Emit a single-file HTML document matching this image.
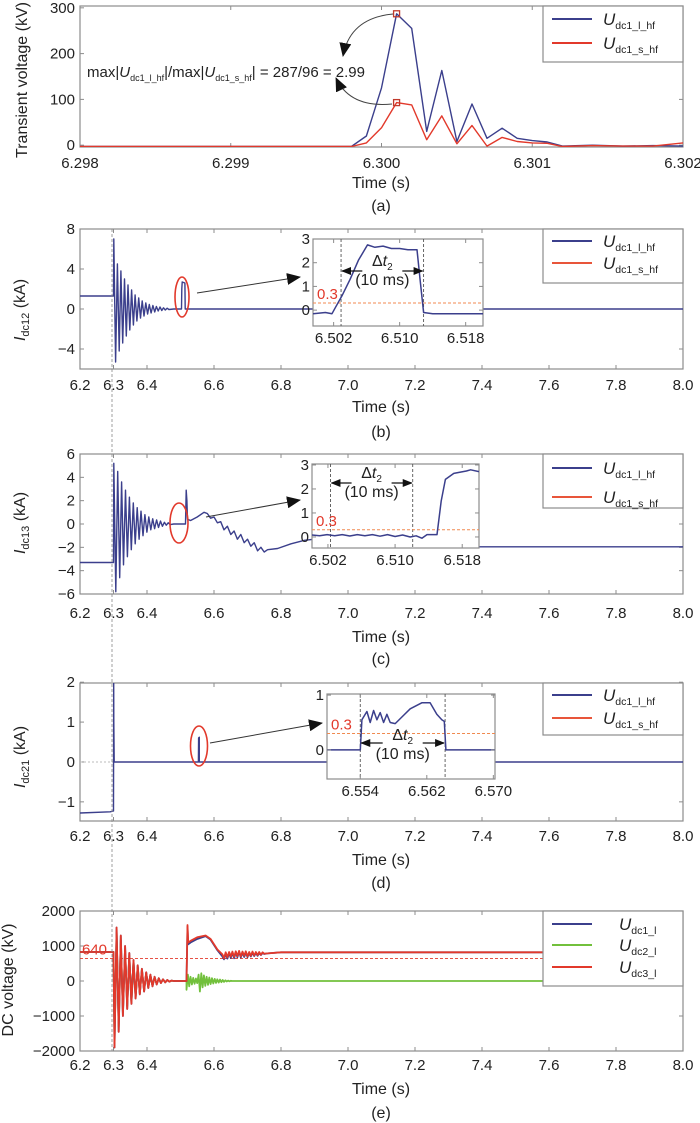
<!DOCTYPE html>
<html><head><meta charset="utf-8">
<style>
html,body{margin:0;padding:0;background:#fff;}
svg{display:block;font-family:"Liberation Sans",Arial,sans-serif;}
</style></head>
<body>
<svg id="fig" width="700" height="1123" viewBox="0 0 700 1123" xmlns="http://www.w3.org/2000/svg">
<defs>
<marker id="ah" markerWidth="10" markerHeight="8" refX="9" refY="4" orient="auto" markerUnits="userSpaceOnUse"><path d="M0,0 L10,4 L0,8 z" fill="#111"/></marker>
<marker id="ahb" markerWidth="14" markerHeight="12" refX="13" refY="6" orient="auto" markerUnits="userSpaceOnUse"><path d="M0,0 L14,6 L0,12 z" fill="#111"/></marker>
</defs>
</svg>
<script>
// ---------- DATA ----------
// panel (a)
const aTime = [6.2980,6.2998,6.2999,6.3000,6.3001,6.3002,6.3003,6.3004,6.3005,6.3006,6.3007,6.3008,6.3009,6.3010,6.3011,6.3012,6.3014,6.3016,6.3018,6.3020];
const aBlue = [-3,-3,20,125,287,255,30,163,8,90,15,37,15,10,7,-2,0,-2,-1,-2];
const aRed  = [-3,-3,5,38,93,88,12,64,3,43,-2,17,8,5,4,-3,-1,-2,-2,5];
const aXTicks = [6.298,6.299,6.300,6.301,6.302];
const aXLabels = ["6.298","6.299","6.300","6.301","6.302"];
const aYTicks = [0,100,200,300];
// shared x axis for (b)-(e)
const mainXTicks = [6.2,6.3,6.4,6.6,6.8,7.0,7.2,7.4,7.6,7.8,8.0];
const mainXLabels = ["6.2","6.3","6.4","6.6","6.8","7.0","7.2","7.4","7.6","7.8","8.0"];
// panel (b)
const bPreT = [6.2,6.3]; const bPreV = [1.3,1.3];
const bOscStart = 6.301; const bOscStep = 0.0053;
const bOsc = [7.0,-5.3,4.5,-4.2,3.8,-3.4,3.0,-2.7,2.4,-2.1,1.9,-1.6,1.4,-1.2,1.1,-0.9,0.8,-0.7,0.6,-0.5,0.45,-0.4,0.35,-0.3,0.25,-0.2,0.2,-0.15,0.12,-0.1,0.08,-0.05];
const bTailT = [6.48,6.503,6.504,6.505,6.513,6.514,8.0];
const bTailV = [0,0,2.0,2.7,2.6,0,0];
const bYTicks = [-4,0,4,8];
const ibT = [6.4995,6.5010,6.5018,6.5022,6.5030,6.5040,6.5050,6.5061,6.5070,6.5080,6.5090,6.5100,6.5110,6.5121,6.5125,6.5129,6.5140,6.5201];
const ibV = [-0.15,-0.1,-0.15,0.1,0.6,1.3,2.1,2.75,2.65,2.7,2.6,2.6,2.55,2.55,1.2,-0.1,-0.15,-0.15];
const ibXTicks = [6.502,6.510,6.518]; const ibXLabels = ["6.502","6.510","6.518"];
const ibYTicks = [0,1,2,3];
const ibMarks = [6.5029,6.5129];
// panel (c)
const cPreT = [6.2,6.3]; const cPreV = [-3.3,-3.3];
const cOscStart = 6.301; const cOscStep = 0.0058;
const cOsc = [5.2,-5.8,4.5,-4.6,3.6,-3.5,2.9,-2.8,2.3,-2.2,1.8,-1.7,1.4,-1.3,1.1,-1.0,0.8,-0.7,0.6,-0.5,0.45,-0.4,0.35,-0.3,0.25,-0.2,0.15,-0.1,0.1,-0.05];
const cTailT = [6.48,6.515,6.517,6.519,6.521,6.53,6.55,6.57,6.58,6.59,6.60,6.61,6.62,6.63,6.64,6.65,6.66,6.67,6.68,6.69,6.70,6.71,6.72,6.73,6.74,6.75,6.76,6.79,6.83,6.87,6.90,7.39,8.0];
const cTailV = [0,0,2.9,2.0,0.4,0.3,0.6,1.0,0.9,0.5,0.6,0.1,0.2,-0.5,-0.2,-0.9,-0.6,-1.3,-0.9,-1.6,-1.3,-1.9,-1.6,-2.3,-2.0,-2.4,-2.2,-2.1,-1.7,-1.4,-1.3,-1.95,-1.95];
const cYTicks = [-6,-4,-2,0,2,4,6];
const icT = [6.5001,6.5010,6.5019,6.5028,6.5037,6.5046,6.5055,6.5064,6.5073,6.5082,6.5091,6.5100,6.5109,6.5118,6.5125,6.5132,6.5138,6.5150,6.5155,6.5160,6.5170,6.5185,6.5190,6.5200];
const icV = [0.08,0.05,0.1,0.05,0.1,0.04,0.1,0.05,0.1,0.03,0.1,0.02,0.08,0.0,0.05,-0.05,0.1,0.1,1.5,2.4,2.65,2.75,2.8,2.72];
const icXTicks = [6.502,6.510,6.518]; const icXLabels = ["6.502","6.510","6.518"];
const icYTicks = [0,1,2,3];
const icMarks = [6.5023,6.5121];
// panel (d)
const dT = [6.2,6.29,6.3,6.3005,6.301,6.302,6.5535,6.554,6.556,6.5562,8.0];
const dV = [-1.28,-1.25,-1.23,2.0,1.0,0,0,0.6,0.62,0,0];
const dYTicks = [-1,0,1,2];
const idT = [6.550,6.5540,6.5542,6.5548,6.5552,6.5556,6.5560,6.5564,6.5568,6.5572,6.5576,6.5582,6.5590,6.5600,6.5614,6.5624,6.5632,6.5638,6.5641,6.5643,6.5702];
const idV = [0,0,0.55,0.7,0.5,0.72,0.55,0.68,0.5,0.65,0.5,0.48,0.6,0.75,0.86,0.86,0.65,0.55,0.52,0,0];
const idXTicks = [6.554,6.562,6.570]; const idXLabels = ["6.554","6.562","6.570"];
const idYTicks = [0,1];
const idMarks = [6.554,6.5642];
// panel (e)
const ePreT = [6.2,6.3]; const ePreV = [830,830];
const eOscStart = 6.303; const eOscStep = 0.0063;
const eOsc = [-1900,1530,-1450,1300,-1000,1000,-800,800,-650,600,-500,450,-380,350,-300,250,-200,180,-150,120,-100,80,-60,50,-40,30,-20,10];
const eTailT = [6.48,6.518,6.521,6.523,6.53,6.55,6.575,6.59,6.61,6.625,6.63,6.635,6.64,6.645,6.65,6.655,6.66,6.665,6.67,6.675,6.68,6.685,6.69,6.695,6.70,6.705,6.71,6.715,6.72,6.725,6.73,6.735,6.74,6.745,6.75,6.76,6.80,8.0];
const eRedTail = [0,0,1600,1100,1150,1250,1300,1200,900,760,650,820,680,830,700,840,690,850,710,860,700,840,720,850,700,830,720,840,730,830,740,830,750,820,780,790,820,820];
const eBlueTail = [0,0,1550,1050,1100,1200,1280,1180,880,700,620,780,640,800,660,810,650,820,680,830,670,810,690,820,680,800,700,810,710,800,720,800,740,800,770,790,820,820];
const gOscStart = 6.518; const gOscStep = 0.004;
const gOsc = [-250,180,-150,120,-100,90,-80,70,-60,180,-300,220,-180,160,-140,120,-110,100,-90,80,-70,60,-55,50,-45,40,-35,30,-25,20,-15,10,-8,5,0];
const eYTicks = [-2000,-1000,0,1000,2000];
const eYLabels = ["\u22122000","\u22121000","0","1000","2000"];

// ---------- HELPERS ----------
const NS='http://www.w3.org/2000/svg';
const svg=document.getElementById('fig');
function mk(tag,a,p){const e=document.createElementNS(NS,tag);for(const k in a)e.setAttribute(k,a[k]);(p||svg).appendChild(e);return e;}
function lin(d0,d1,r0,r1){return v=>r0+(v-d0)/(d1-d0)*(r1-r0);}
function osc(start,step,vals){const t=[],v=[];for(let i=0;i<vals.length;i++){t.push(start+i*step);v.push(vals[i]);}return {t,v};}
function pathD(sx,sy,T,V){let d='';for(let i=0;i<T.length;i++)d+=(i?'L':'M')+sx(T[i]).toFixed(1)+','+sy(V[i]).toFixed(1);return d;}
let clipN=0;
function clip(x0,y0,x1,y1){const id='c'+(clipN++);const cp=mk('clipPath',{id:id},svg.querySelector('defs'));mk('rect',{x:x0,y:y0,width:x1-x0,height:y1-y0},cp);return 'url(#'+id+')';}
function fmt(v){return v<0?'\u2212'+(-v):String(v);}
const BLUE='#3b3f8c', RED='#e2392b', GREEN='#72c03c', FR='#8c8c8c';

function frameRect(x0,y0,x1,y1,name){
  const r=mk('rect',{x:x0,y:y0,width:x1-x0,height:y1-y0,fill:'#fff',stroke:FR,'stroke-width':1.2});
  
  
  return r;
}
function xAxis(sx,y0,y1,ticks,labels,ly,name,fs){
  const g=mk('g',{});
  
  
  ticks.forEach((t,i)=>{
    mk('line',{x1:sx(t),x2:sx(t),y1:y1,y2:y1-4,stroke:FR},g);
    mk('line',{x1:sx(t),x2:sx(t),y1:y0,y2:y0+4,stroke:FR},g);
    const tx=mk('text',{x:sx(t),y:ly,'text-anchor':'middle','font-size':fs||15,fill:'#222'},g);
    tx.textContent=labels[i];
    
    
  });
}
function yAxis(sy,x0,x1,ticks,labels,lx,name,fs){
  const g=mk('g',{});
  
  
  ticks.forEach((v,i)=>{
    mk('line',{x1:x0,x2:x0+4,y1:sy(v),y2:sy(v),stroke:FR},g);
    mk('line',{x1:x1,x2:x1-4,y1:sy(v),y2:sy(v),stroke:FR},g);
    const tx=mk('text',{x:lx,y:sy(v)+5,'text-anchor':'end','font-size':fs||15,fill:'#222'},g);
    tx.textContent=labels?labels[i]:fmt(v);
    
    
  });
}
function series(sx,sy,T,V,color,cp,name,w){
  const p=mk('path',{d:pathD(sx,sy,T,V),fill:'none',stroke:color,'stroke-width':w||1.4,'stroke-linejoin':'round','clip-path':cp});
  
  
  return p;
}
function sub(parent,main,subtxt,x,y,fs,name){
  const t=mk('text',{x:x,y:y,'font-size':fs,fill:'#222'},parent);
  const a=mk('tspan',{'font-style':'italic'},t);a.textContent=main;
  const b=mk('tspan',{'font-size':fs*0.62,dy:4},t);b.textContent=subtxt;
  
  
  return t;
}
function legend(x0,y0,x1,y1,entries,name){
  const g=mk('g',{});
  
  
  mk('rect',{x:x0,y:y0,width:x1-x0,height:y1-y0,fill:'#fff',stroke:FR,'stroke-width':1.2},g);
  entries.forEach(e=>{
    const l=mk('line',{x1:x0+9,x2:x0+49,y1:e.y,y2:e.y,stroke:e.c,'stroke-width':2},g);
    
    
    sub(g,'U',e.s,e.tx||x0+60,e.y+6,17,'legend-entry');
  });
}
function ytitle(x,y,parts,name){
  const t=mk('text',{x:x,y:y,'text-anchor':'middle','font-size':16,fill:'#222',transform:'rotate(-90 '+x+' '+y+')'});
  parts.forEach(p=>{const s=mk('tspan',p.a||{},t);s.textContent=p.t;});
  
  
}
function plain(x,y,txt,name,fs,color,anchor){
  const t=mk('text',{x:x,y:y,'text-anchor':anchor||'middle','font-size':fs||15,fill:color||'#222'});
  t.textContent=txt;
  
  
  return t;
}
function deltaT(xa,xb,ty,ay,name){
  const g=mk('g',{});
  
  
  const mid=(xa+xb)/2;
  mk('line',{x1:mid-20,x2:xa+1,y1:ay,y2:ay,stroke:'#111','stroke-width':1.2,'marker-end':'url(#ah)'},g);
  mk('line',{x1:mid+20,x2:xb-1,y1:ay,y2:ay,stroke:'#111','stroke-width':1.2,'marker-end':'url(#ah)'},g);
  const t=mk('text',{x:mid,y:ty,'text-anchor':'middle','font-size':16,fill:'#222'},g);
  const s1=mk('tspan',{},t);s1.textContent='\u0394';
  const s2=mk('tspan',{'font-style':'italic'},t);s2.textContent='t';
  const s3=mk('tspan',{'font-size':10,dy:4},t);s3.textContent='2';
  const t2=mk('text',{x:mid,y:ty+19,'text-anchor':'middle','font-size':16,fill:'#222'},g);
  t2.textContent='(10 ms)';
}
function ellipse(cx,cy,rx,ry,name){
  const e=mk('ellipse',{cx:cx,cy:cy,rx:rx,ry:ry,fill:'none',stroke:RED,'stroke-width':1.6});
  
  
}
function zoomArrow(x1,y1,x2,y2,name){
  const l=mk('line',{x1:x1,y1:y1,x2:x2,y2:y2,stroke:'#333','stroke-width':1,'marker-end':'url(#ahb)'});
  
  
}
function inset(cfg){
  const sx=lin(cfg.xd[0],cfg.xd[1],cfg.x0,cfg.x1), sy=lin(cfg.yd[0],cfg.yd[1],cfg.y1,cfg.y0);
  frameRect(cfg.x0,cfg.y0,cfg.x1,cfg.y1,cfg.name+'-frame');
  const cp=clip(cfg.x0,cfg.y0,cfg.x1,cfg.y1);
  cfg.marks.forEach(m=>{const l=mk('line',{x1:sx(m),x2:sx(m),y1:cfg.y0,y2:cfg.y1,stroke:'#555','stroke-dasharray':'3,2','stroke-width':0.9});
    
    });
  const th=mk('line',{x1:cfg.x0,x2:cfg.x1,y1:sy(0.3),y2:sy(0.3),stroke:'#f08a50','stroke-dasharray':'3,2','stroke-width':1});
  
  
  series(sx,sy,cfg.T,cfg.V,BLUE,cp,cfg.name+'-series',1.5);
  xAxis(sx,cfg.y0,cfg.y1,cfg.xt,cfg.xl,cfg.y1+17,cfg.name+'-x-axis');
  yAxis(sy,cfg.x0,cfg.x1,cfg.yt,null,cfg.x0-3,cfg.name+'-y-axis');
  plain(cfg.x0+4,sy(0.3)-4,'0.3','threshold-label',15,RED,'start');
  deltaT(sx(cfg.marks[0]),sx(cfg.marks[1]),cfg.dty,cfg.day,cfg.name+'-delta-t');
}

// ---------- PANEL (a) ----------
(function(){
  const x0=80,x1=683,y0=6,y1=147;
  const sx=lin(6.298,6.302,x0,x1), sy=lin(-4,304,y1,y0);
  frameRect(x0,y0,x1,y1,'panel-a-frame');
  const cp=clip(x0,y0,x1,y1);
  xAxis(sx,y0,y1,aXTicks,aXLabels,168,'panel-a-x-axis');
  yAxis(sy,x0,x1,aYTicks,null,75,'panel-a-y-axis');
  series(sx,sy,aTime,aBlue,BLUE,cp,'u-dc1-l-hf-line');
  series(sx,sy,aTime,aRed,RED,cp,'u-dc1-s-hf-line');
  const pk=[[aTime[4],aBlue[4]],[aTime[4],aRed[4]]];
  pk.forEach(p=>{const r=mk('rect',{x:sx(p[0])-3,y:sy(p[1])-3,width:6,height:6,fill:'none',stroke:'#c0392b','stroke-width':1.3});
    
    });
  const ar1=mk('path',{d:'M393,14 Q350,18 343,56',fill:'none',stroke:'#444','stroke-width':1,'marker-end':'url(#ahb)'});
  
  
  const ar2=mk('path',{d:'M392,104 Q350,108 336,78',fill:'none',stroke:'#444','stroke-width':1,'marker-end':'url(#ahb)'});
  
  
  const t=mk('text',{x:87,y:77,'font-size':15,fill:'#222'});
  const parts=[['max|',{}],['U',{'font-style':'italic'}],['dc1_l_hf',{'font-size':9,dy:4}],['|/max|',{dy:-4}],['U',{'font-style':'italic'}],['dc1_s_hf',{'font-size':9,dy:4}],['| = 287/96 = 2.99',{dy:-4}]];
  parts.forEach(p=>{const s=mk('tspan',p[1],t);s.textContent=p[0];});
  
  
  legend(543,6,683,62,[{y:19,c:BLUE,s:'dc1_l_hf'},{y:43,c:RED,s:'dc1_s_hf'}],'panel-a-legend');
  ytitle(27,80,[{t:'Transient voltage (kV)'}],'panel-a-y-title');
  plain(381,188,'Time (s)','panel-a-x-title',16);
  plain(381,211,'(a)','panel-a-caption',16);
})();

// ---------- PANEL (b) ----------
(function(){
  const x0=80,x1=683,y0=229,y1=369;
  const sx=lin(6.2,8.0,x0,x1), sy=lin(-6,8,y1,y0);
  frameRect(x0,y0,x1,y1,'panel-b-frame');
  const cp=clip(x0,y0,x1,y1);
  xAxis(sx,y0,y1,mainXTicks,mainXLabels,390,'panel-b-x-axis');
  yAxis(sy,x0,x1,bYTicks,null,75,'panel-b-y-axis');
  const o=osc(bOscStart,bOscStep,bOsc);
  series(sx,sy,bPreT.concat(o.t,bTailT),bPreV.concat(o.v,bTailV),BLUE,cp,'i-dc12-line');
  ellipse(182,297,7,20,'pulse-highlight-b');
  zoomArrow(197,293,300,277,'zoom-arrow-b');
  inset({name:'inset-b',x0:313,x1:483,y0:239,y1:326,xd:[6.4995,6.5201],yd:[-0.67,3.0],T:ibT,V:ibV,xt:ibXTicks,xl:ibXLabels,yt:ibYTicks,marks:ibMarks,dty:266,day:271});
  legend(543,229,683,283,[{y:241,c:BLUE,s:'dc1_l_hf'},{y:263,c:'#e8553a',s:'dc1_s_hf'}],'panel-b-legend');
  ytitle(25,310,[{t:'I',a:{'font-style':'italic'}},{t:'dc12',a:{'font-size':11,dy:4}},{t:' (kA)',a:{dy:-4}}],'panel-b-y-title');
  plain(381,412,'Time (s)','panel-b-x-title',16);
  plain(381,437,'(b)','panel-b-caption',16);
})();

// ---------- PANEL (c) ----------
(function(){
  const x0=80,x1=683,y0=454,y1=594;
  const sx=lin(6.2,8.0,x0,x1), sy=lin(-6,6,y1,y0);
  frameRect(x0,y0,x1,y1,'panel-c-frame');
  const cp=clip(x0,y0,x1,y1);
  xAxis(sx,y0,y1,mainXTicks,mainXLabels,618,'panel-c-x-axis');
  yAxis(sy,x0,x1,cYTicks,null,75,'panel-c-y-axis');
  const o=osc(cOscStart,cOscStep,cOsc);
  series(sx,sy,cPreT.concat(o.t,cTailT),cPreV.concat(o.v,cTailV),BLUE,cp,'i-dc13-line');
  ellipse(179,523,9,20,'pulse-highlight-c');
  zoomArrow(206,517,300,500,'zoom-arrow-c');
  inset({name:'inset-c',x0:312,x1:479,y0:464,y1:548,xd:[6.5001,6.5200],yd:[-0.46,3.04],T:icT,V:icV,xt:icXTicks,xl:icXLabels,yt:icYTicks,marks:icMarks,dty:478,day:483});
  legend(543,454,683,508,[{y:468,c:BLUE,s:'dc1_l_hf'},{y:497,c:'#e8553a',s:'dc1_s_hf'}],'panel-c-legend');
  ytitle(25,523,[{t:'I',a:{'font-style':'italic'}},{t:'dc13',a:{'font-size':11,dy:4}},{t:' (kA)',a:{dy:-4}}],'panel-c-y-title');
  plain(381,642,'Time (s)','panel-c-x-title',16);
  plain(381,664,'(c)','panel-c-caption',16);
})();

// ---------- PANEL (d) ----------
(function(){
  const x0=80,x1=683,y0=683,y1=821;
  const sx=lin(6.2,8.0,x0,x1), sy=lin(-1.48,1.98,y1,y0);
  frameRect(x0,y0,x1,y1,'panel-d-frame');
  const cp=clip(x0,y0,x1,y1);
  xAxis(sx,y0,y1,mainXTicks,mainXLabels,841,'panel-d-x-axis');
  yAxis(sy,x0,x1,dYTicks,null,75,'panel-d-y-axis');
  const zl=mk('line',{x1:x0,x2:x1,y1:sy(0),y2:sy(0),stroke:'#bbb','stroke-dasharray':'2,2'});
  
  
  series(sx,sy,dT,dV,BLUE,cp,'i-dc21-line');
  ellipse(199,746,8.5,20,'pulse-highlight-d');
  zoomArrow(210,743,322,723,'zoom-arrow-d');
  inset({name:'inset-d',x0:327,x1:495,y0:694,y1:779,xd:[6.5500,6.5702],yd:[-0.53,1.02],T:idT,V:idV,xt:idXTicks,xl:idXLabels,yt:idYTicks,marks:idMarks,dty:740,day:743});
  legend(543,683,683,735,[{y:695,c:BLUE,s:'dc1_l_hf'},{y:718,c:'#e8553a',s:'dc1_s_hf'}],'panel-d-legend');
  ytitle(25,757,[{t:'I',a:{'font-style':'italic'}},{t:'dc21',a:{'font-size':11,dy:4}},{t:' (kA)',a:{dy:-4}}],'panel-d-y-title');
  plain(381,865,'Time (s)','panel-d-x-title',16);
  plain(381,888,'(d)','panel-d-caption',16);
})();

// ---------- PANEL (e) ----------
(function(){
  const x0=80,x1=683,y0=911,y1=1051;
  const sx=lin(6.2,8.0,x0,x1), sy=lin(-2000,2000,y1,y0);
  frameRect(x0,y0,x1,y1,'panel-e-frame');
  const cp=clip(x0,y0,x1,y1);
  xAxis(sx,y0,y1,mainXTicks,mainXLabels,1070,'panel-e-x-axis');
  yAxis(sy,x0,x1,eYTicks,eYLabels,75,'panel-e-y-axis');
  const ref=mk('line',{x1:x0,x2:x1,y1:sy(640),y2:sy(640),stroke:RED,'stroke-dasharray':'3,2','stroke-width':0.9});
  
  
  plain(x0+2,sy(640)-4,'640','reference-640-label',15,RED,'start');
  const o=osc(eOscStart,eOscStep,eOsc);
  const g=osc(gOscStart,gOscStep,gOsc);
  series(sx,sy,[6.2,6.3].concat(o.t,[6.48,6.518],g.t,[6.7,8.0]),[830,830].concat(o.v.map(v=>v*0.9),[0,0],g.v,[0,0]),GREEN,cp,'u-dc2-l-line',1.8);
  series(sx,sy,ePreT.concat(o.t,eTailT),ePreV.concat(o.v,eBlueTail),BLUE,cp,'u-dc1-l-line',1.8);
  series(sx,sy,ePreT.concat(o.t,eTailT),ePreV.concat(o.v,eRedTail),RED,cp,'u-dc3-l-line',1.8);
  legend(543,911,683,986,[{y:924,c:BLUE,s:'dc1_l',tx:619},{y:945,c:GREEN,s:'dc2_l',tx:619},{y:967,c:RED,s:'dc3_l',tx:619}],'panel-e-legend');
  ytitle(13,980,[{t:'DC voltage (kV)'}],'panel-e-y-title');
  plain(381,1094,'Time (s)','panel-e-x-title',16);
  plain(381,1118,'(e)','panel-e-caption',16);
})();

// fault-instant marker across panels
const fl=mk('line',{x1:112,x2:112,y1:229,y2:1051,stroke:'#888','stroke-dasharray':'3,2','stroke-width':0.8});


</script>
</body></html>
